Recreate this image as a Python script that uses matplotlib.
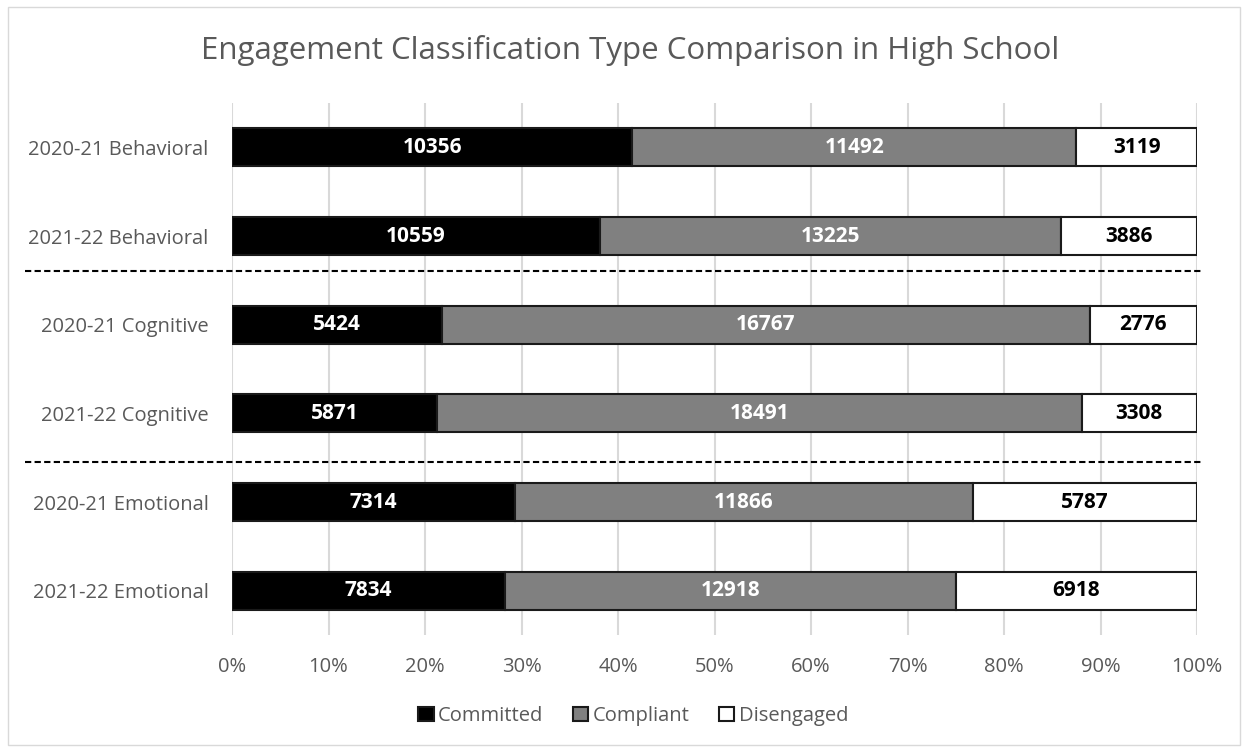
import matplotlib.pyplot as plt
from matplotlib.patches import Rectangle
from matplotlib.lines import Line2D
import numpy as np

categories = ["2020-21 Behavioral", "2021-22 Behavioral", "2020-21 Cognitive",
              "2021-22 Cognitive", "2020-21 Emotional", "2021-22 Emotional"]
committed = [10356, 10559, 5424, 5871, 7314, 7834]
compliant = [11492, 13225, 16767, 18491, 11866, 12918]
disengaged = [3119, 3886, 2776, 3308, 5787, 6918]
series_names = ["Committed", "Compliant", "Disengaged"]
colors = ["#000000", "#808080", "#ffffff"]
label_colors = ["white", "white", "black"]
separators = [1.4, 3.55]

plt.rcParams["font.family"] = ["Open Sans", "DejaVu Sans"]
text_gray = "#595959"

fig = plt.figure(figsize=(12.49, 7.51), dpi=100)
ax = fig.add_axes([232 / 1249, 1 - 635 / 751, 965 / 1249, 532 / 751])

data = np.array([committed, compliant, disengaged], dtype=float)
totals = data.sum(axis=0)
shares = data / totals
y = np.arange(len(categories))
left = np.zeros(len(categories))
for i, name in enumerate(series_names):
    ax.barh(y, shares[i], left=left, height=0.43, color=colors[i],
            edgecolor="#1a1a1a", linewidth=1.5, label=name, zorder=3)
    for j in range(len(categories)):
        ax.text(left[j] + shares[i][j] / 2, y[j], f"{int(data[i][j])}",
                ha="center", va="center", color=label_colors[i],
                fontsize=15, fontweight="bold", zorder=4)
    left += shares[i]

ax.set_xlim(0, 1)
ax.set_ylim(len(categories) - 0.5, -0.5)
ax.set_yticks(y)
ax.set_yticklabels(categories)
ax.set_xticks(np.linspace(0, 1, 11))
ax.set_xticklabels([f"{int(t)}%" for t in np.linspace(0, 100, 11)])
ax.tick_params(axis="both", length=0, colors=text_gray, labelsize=14.5)
ax.tick_params(axis="y", pad=17)
ax.tick_params(axis="x", pad=16)
ax.grid(axis="x", color="#d9d9d9", linewidth=1.5, zorder=0)
for s in ax.spines.values():
    s.set_visible(False)

for sy in separators:
    ax.add_line(Line2D([-0.2145, 1.006], [sy, sy], color="black", linestyle=(0, (3, 1.6)),
                       linewidth=1.5, clip_on=False, transform=ax.get_yaxis_transform()))

fig.text(630 / 1249, 1 - 50 / 751, "Engagement Classification Type Comparison in High School",
         fontsize=22.5, color=text_gray, ha="center", va="center")

handles = [Rectangle((0, 0), 1, 1, facecolor=c, edgecolor="#1a1a1a", linewidth=1.5)
           for c in colors]
fig.legend(handles, series_names, loc="center", bbox_to_anchor=(0.507, 1 - 716 / 751),
           ncol=3, frameon=False, fontsize=14.5, labelcolor=text_gray,
           handlelength=0.75, handleheight=0.75, handletextpad=0.2, columnspacing=1.5)

fig.patches.append(Rectangle((8 / 1249, 6 / 751), 1232 / 1249, 738 / 751,
                             transform=fig.transFigure, fill=False,
                             edgecolor="#d9d9d9", linewidth=1))

fig.savefig("out.png", dpi=100)
